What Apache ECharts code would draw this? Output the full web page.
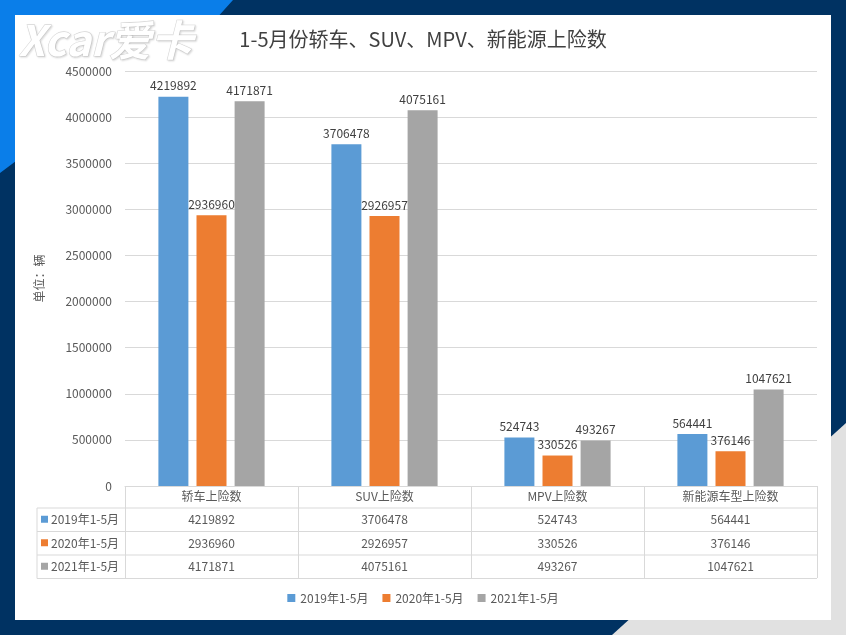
<!DOCTYPE html>
<html><head><meta charset="utf-8">
<script src="https://cdn.jsdelivr.net/npm/echarts@6/dist/echarts.min.js"></script>
<style>html,body{margin:0;padding:0;background:#003262}#c{width:846px;height:635px}</style>
</head><body><div id="c"></div>
<script>
const titleText = '1-5月份轿车、SUV、MPV、新能源上险数';
const categories = ['轿车上险数', 'SUV上险数', 'MPV上险数', '新能源车型上险数'];
const seriesNames = ['2019年1-5月', '2020年1-5月', '2021年1-5月'];
const v2019 = [4219892, 3706478, 524743, 564441];
const v2020 = [2936960, 2926957, 330526, 376146];
const v2021 = [4171871, 4075161, 493267, 1047621];
const yMin = 0, yMax = 4500000, yStep = 500000;
const yAxisName = '单位：辆';
const colors = ['#5b9bd5', '#ed7d31', '#a5a5a5'];
const seriesValues = [v2019, v2020, v2021];

const FONT = '"Noto Sans CJK SC", "Noto Sans", sans-serif';
const TXT = '#595959';
const LINE = '#d9d9d9';
const G = {left: 125, right: 29, top: 71, bottom: 149};
const rowTop = 508, rowH = 23.5, tableLeft = 37;

const chart = echarts.init(document.getElementById('c'), null, {renderer: 'canvas'});

const bgGraphics = [
  {type: 'rect', z: -10, shape: {x: 0, y: 0, width: 846, height: 635}, style: {fill: '#003262'}},
  {type: 'polygon', z: -9, shape: {points: [[0,0],[233,0],[215,20],[20,158],[0,173]]}, style: {fill: '#0a7ee9'}},
  {type: 'polygon', z: -9, shape: {points: [[846,423],[846,635],[612,635]]}, style: {fill: '#e1e1e1'}},
  {type: 'rect', z: -8, shape: {x: 15, y: 15, width: 816, height: 605}, style: {fill: '#ffffff'}},
  {type: 'text', z: -7, left: 18, top: 18, style: {text: 'Xcar爱卡', fill: '#ffffff', font: 'italic bold 42px "Noto Sans CJK SC", sans-serif',
    stroke: '#d8d8d8', lineWidth: 1.2, textShadowColor: 'rgba(0,0,0,0.12)', textShadowBlur: 2, textShadowOffsetX: 1, textShadowOffsetY: 1}}
];

const option = {
  animation: false,
  backgroundColor: 'transparent',
  color: colors,
  title: {text: titleText, left: 'center', top: 24, textStyle: {fontFamily: FONT, fontSize: 20, fontWeight: 'normal', color: '#404040'}},
  legend: {bottom: 26, left: 'center', itemWidth: 8, itemHeight: 8, itemGap: 14, icon: 'rect',
    textStyle: {fontFamily: FONT, fontSize: 12, color: TXT}, data: seriesNames},
  grid: G,
  xAxis: {type: 'category', data: categories,
    axisLine: {lineStyle: {color: LINE}},
    axisTick: {show: true, length: 92, lineStyle: {color: LINE}},
    axisLabel: {margin: 4, fontFamily: FONT, fontSize: 12, color: TXT}},
  yAxis: {type: 'value', min: yMin, max: yMax, interval: yStep,
    name: yAxisName, nameLocation: 'middle', nameGap: 80,
    nameTextStyle: {fontFamily: FONT, fontSize: 12, color: TXT},
    axisLine: {show: false}, axisTick: {show: false},
    axisLabel: {margin: 13, fontFamily: FONT, fontSize: 12, color: TXT, formatter: v => String(v)},
    splitLine: {lineStyle: {color: LINE}}},
  series: seriesNames.map((n, i) => ({
    name: n, type: 'bar', data: seriesValues[i], barWidth: 30, barGap: '27%',
    itemStyle: {color: colors[i]},
    label: {show: true, position: 'top', distance: 5, fontFamily: FONT, fontSize: 12, color: '#404040'}
  })),
  graphic: bgGraphics
};
chart.setOption(option);

// Data table under the axis, built from the arrays and the axis' own positions
const rightEdge = 846 - G.right;
const table = [];
for (let r = 0; r <= seriesNames.length; r++) {
  const y = rowTop + r * rowH;
  table.push({type: 'line', shape: {x1: tableLeft, y1: y, x2: rightEdge, y2: y}, style: {stroke: LINE, lineWidth: 1}});
}
table.push({type: 'line', shape: {x1: tableLeft, y1: rowTop, x2: tableLeft, y2: rowTop + rowH * 3}, style: {stroke: LINE, lineWidth: 1}});
seriesNames.forEach((n, r) => {
  const cy = rowTop + r * rowH + rowH / 2;
  table.push({type: 'rect', shape: {x: 41, y: cy - 4, width: 7, height: 7}, style: {fill: colors[r]}});
  table.push({type: 'text', x: 51, y: cy, style: {text: n, font: '12px ' + FONT, fill: TXT, textVerticalAlign: 'middle', verticalAlign: 'middle'}});
  categories.forEach((c, k) => {
    const cx = chart.convertToPixel({xAxisIndex: 0}, c);
    table.push({type: 'text', x: cx, y: cy, style: {text: String(seriesValues[r][k]), font: '12px ' + FONT, fill: TXT,
      textAlign: 'center', align: 'center', textVerticalAlign: 'middle', verticalAlign: 'middle'}});
  });
});
chart.setOption({graphic: bgGraphics.concat(table.map(e => Object.assign({z: 5}, e)))});
</script>
</body></html>
